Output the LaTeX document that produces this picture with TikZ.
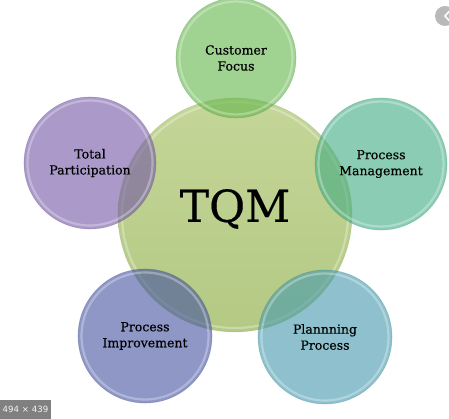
\documentclass[tikz,border=0pt]{standalone}
\usepackage{fontspec}
\setmainfont{DejaVu Serif}
\newfontfamily\labelfont[FakeBold=0.4]{DejaVu Serif}
\newfontfamily\badgefont{DejaVu Sans}
\definecolor{cfc}{RGB}{97,180,72}
\definecolor{tpc}{RGB}{114,86,166}
\definecolor{pmc}{RGB}{63,172,130}
\definecolor{pic}{RGB}{67,82,160}
\definecolor{ppc}{RGB}{68,153,172}
\definecolor{tqtop}{RGB}{196,214,152}
\definecolor{tqbot}{RGB}{180,201,132}
\begin{document}
\begin{tikzpicture}[x=1pt,y=-1pt,
  bubble/.style={circle, inner sep=0pt, align=center, fill=#1, fill opacity=0.6,
    text opacity=1, draw=#1!75!black, draw opacity=0.28, line width=0.6pt,
    font=\labelfont\fontsize{12.5}{16}\selectfont},
  rim/.style={white, opacity=0.3, line width=2.2pt},
  hub/.style={circle, inner sep=0pt, top color=tqtop, bottom color=tqbot,
    draw=tqbot!80!black, draw opacity=0.25, line width=0.6pt}
]
\useasboundingbox (0,0) rectangle (449,419);
\fill[white] (0,0) rectangle (449,419);

\node[hub, minimum size=234pt] (tqm) at (235,215) {};
\draw[rim] (tqm.center) circle (113);
\node at (235,209) (tqmlabel) {\labelfont\fontsize{44}{50}\selectfont TQM};

\node[bubble=cfc, minimum size=120pt] (cf) at (236,58) {Customer\\Focus};
\draw[rim] (cf.center) circle (56.5);
\node[bubble=tpc, minimum size=132pt] (tp) at (90,163) {Total\\Participation};
\draw[rim] (tp.center) circle (62.5);
\node[bubble=pmc, minimum size=132pt] (pm) at (381,164) {Process\\Management};
\draw[rim] (pm.center) circle (62.5);
\node[bubble=pic, minimum size=134pt] (pi) at (145,336) {Process\\Improvement};
\draw[rim] (pi.center) circle (63.5);
\node[bubble=ppc, minimum size=134pt] (pp) at (325,337) {Plannning\\Process};
\draw[rim] (pp.center) circle (63.5);

% screenshot overlays
\fill[fill={rgb,255:red,128;green,128;blue,128}] (0,400) rectangle (51,419);
\node[inner sep=0pt, text=white!92!gray, font=\badgefont\fontsize{8.6}{10}\selectfont]
  (badge) at (25.5,409.5) {494 × 439};
\fill[gray!55] (445,16) circle (10) coordinate (icon);
\draw[white, line width=1.6pt, line cap=round] (449,11.5) -- (445,16) -- (449,20.5);
\end{tikzpicture}
\end{document}
